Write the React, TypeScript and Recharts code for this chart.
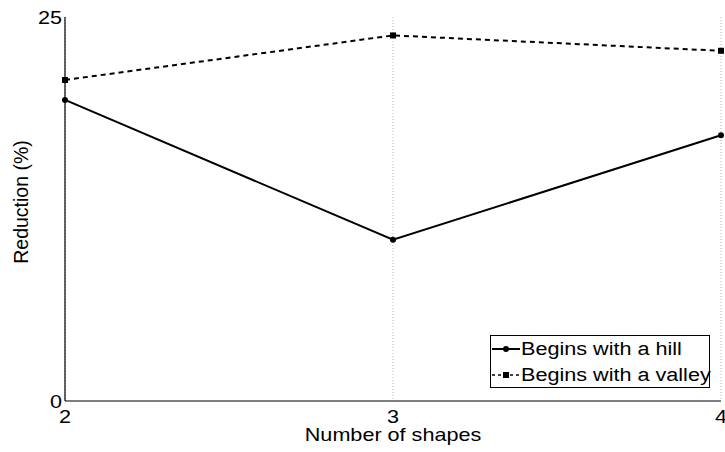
import {
  CartesianGrid,
  Legend,
  Line,
  LineChart,
  XAxis,
  YAxis,
} from "recharts";

const SHAPES = [2, 3, 4];
const HILL = [19.6, 10.5, 17.3];
const VALLEY = [20.9, 23.8, 22.8];
const Y_TICKS = [0, 25];

const FONT = "'Liberation Sans', Arial, Helvetica, sans-serif";
const STRETCH = 1.2;

const data = SHAPES.map((n, i) => ({ n, hill: HILL[i], valley: VALLEY[i] }));

// source figure has its text a bit wide, so stretch horizontally
function XTick({ x, y, payload }: any) {
  return (
    <text
      transform={`translate(${x},${y + 14}) scale(${STRETCH},1)`}
      textAnchor="middle"
      fontFamily={FONT}
      fontSize={18}
      fill="#000"
    >
      {payload.value}
    </text>
  );
}

function YTick({ x, y, payload }: any) {
  return (
    <text
      transform={`translate(${x + 3},${y + 7}) scale(${STRETCH},1)`}
      textAnchor="end"
      fontFamily={FONT}
      fontSize={18}
      fill="#000"
    >
      {payload.value}
    </text>
  );
}

function XTitle({ viewBox }: any) {
  const cx = viewBox.x + viewBox.width / 2;
  return (
    <text
      transform={`translate(${cx},${viewBox.y + 40}) scale(${STRETCH},1)`}
      textAnchor="middle"
      fontFamily={FONT}
      fontSize={18}
      fill="#000"
    >
      Number of shapes
    </text>
  );
}

function YTitle({ viewBox }: any) {
  const cy = viewBox.y + viewBox.height / 2 - 7;
  return (
    <text
      transform={`translate(28,${cy}) rotate(-90)`}
      textAnchor="middle"
      fontFamily={FONT}
      fontSize={19.5}
      fill="#000"
    >
      Reduction (%)
    </text>
  );
}

function SquareDot({ cx, cy, index }: any) {
  return <rect key={`sq-${index}`} x={cx - 3} y={cy - 3} width={6} height={6} fill="#000" />;
}

function LegendIcon({ dashed }: { dashed: boolean }) {
  return (
    <svg width={30} height={12} style={{ display: "block", flex: "none" }}>
      <line
        x1={1}
        x2={29}
        y1={6}
        y2={6}
        stroke="#000"
        strokeWidth={dashed ? 1.5 : 2}
        strokeDasharray={dashed ? "3 3" : undefined}
      />
      {dashed ? (
        <rect x={12} y={3} width={6} height={6} fill="#000" />
      ) : (
        <circle cx={15} cy={6} r={3} fill="#000" />
      )}
    </svg>
  );
}

function renderLegend({ payload }: any) {
  return (
    <div
      style={{
        border: "1px solid #000",
        background: "#fff",
        width: 220,
        height: 53,
        boxSizing: "border-box",
        fontFamily: FONT,
        fontSize: 18,
        color: "#000",
      }}
    >
      {(payload ?? []).map((entry: any) => (
        <div
          key={entry.dataKey}
          style={{ height: 26, display: "flex", alignItems: "center" }}
        >
          <LegendIcon dashed={entry.dataKey === "valley"} />
          <span
            style={{
              display: "inline-block",
              whiteSpace: "nowrap",
              transform: `scaleX(${STRETCH})`,
              transformOrigin: "left center",
            }}
          >
            {entry.value}
          </span>
        </div>
      ))}
    </div>
  );
}

export default function App() {
  return (
    <div style={{ position: "absolute", left: 0, top: 0, background: "#fff" }}>
      <LineChart
        width={725}
        height={452}
        data={data}
        margin={{ top: 17, right: 4, bottom: 0, left: 0 }}
      >
        <CartesianGrid
          horizontal={false}
          stroke="#b0b0b0"
          strokeDasharray="1 2"
        />
        <XAxis
          dataKey="n"
          type="number"
          domain={[2, 4]}
          ticks={SHAPES}
          height={51}
          axisLine={{ stroke: "#000", strokeWidth: 1.2 }}
          tickLine={false}
          tick={<XTick />}
          label={<XTitle />}
        />
        <XAxis
          xAxisId="top"
          orientation="top"
          dataKey="n"
          type="number"
          domain={[2, 4]}
          height={0}
          tick={false}
          tickLine={false}
          axisLine={{ stroke: "#333", strokeWidth: 1.5 }}
        />
        <YAxis
          domain={[0, 25]}
          ticks={Y_TICKS}
          width={65}
          axisLine={{ stroke: "#000", strokeWidth: 1.2 }}
          tickLine={false}
          tickMargin={0}
          tick={<YTick />}
          label={<YTitle />}
        />
        <YAxis
          yAxisId="right"
          orientation="right"
          domain={[0, 25]}
          width={0}
          tick={false}
          tickLine={false}
          axisLine={{ stroke: "#333", strokeWidth: 1.5 }}
        />
        <Legend
          layout="horizontal"
          verticalAlign="middle"
          content={renderLegend}
          wrapperStyle={{ position: "absolute", left: 490, top: 335, width: 220 }}
        />
        <Line
          name="Begins with a hill"
          dataKey="hill"
          type="linear"
          stroke="#000"
          strokeWidth={2}
          dot={{ r: 3, fill: "#000", stroke: "#000", strokeWidth: 0 }}
          isAnimationActive={false}
        />
        <Line
          name="Begins with a valley"
          dataKey="valley"
          type="linear"
          stroke="#000"
          strokeWidth={2}
          strokeDasharray="5 4"
          dot={<SquareDot />}
          isAnimationActive={false}
        />
      </LineChart>
    </div>
  );
}
